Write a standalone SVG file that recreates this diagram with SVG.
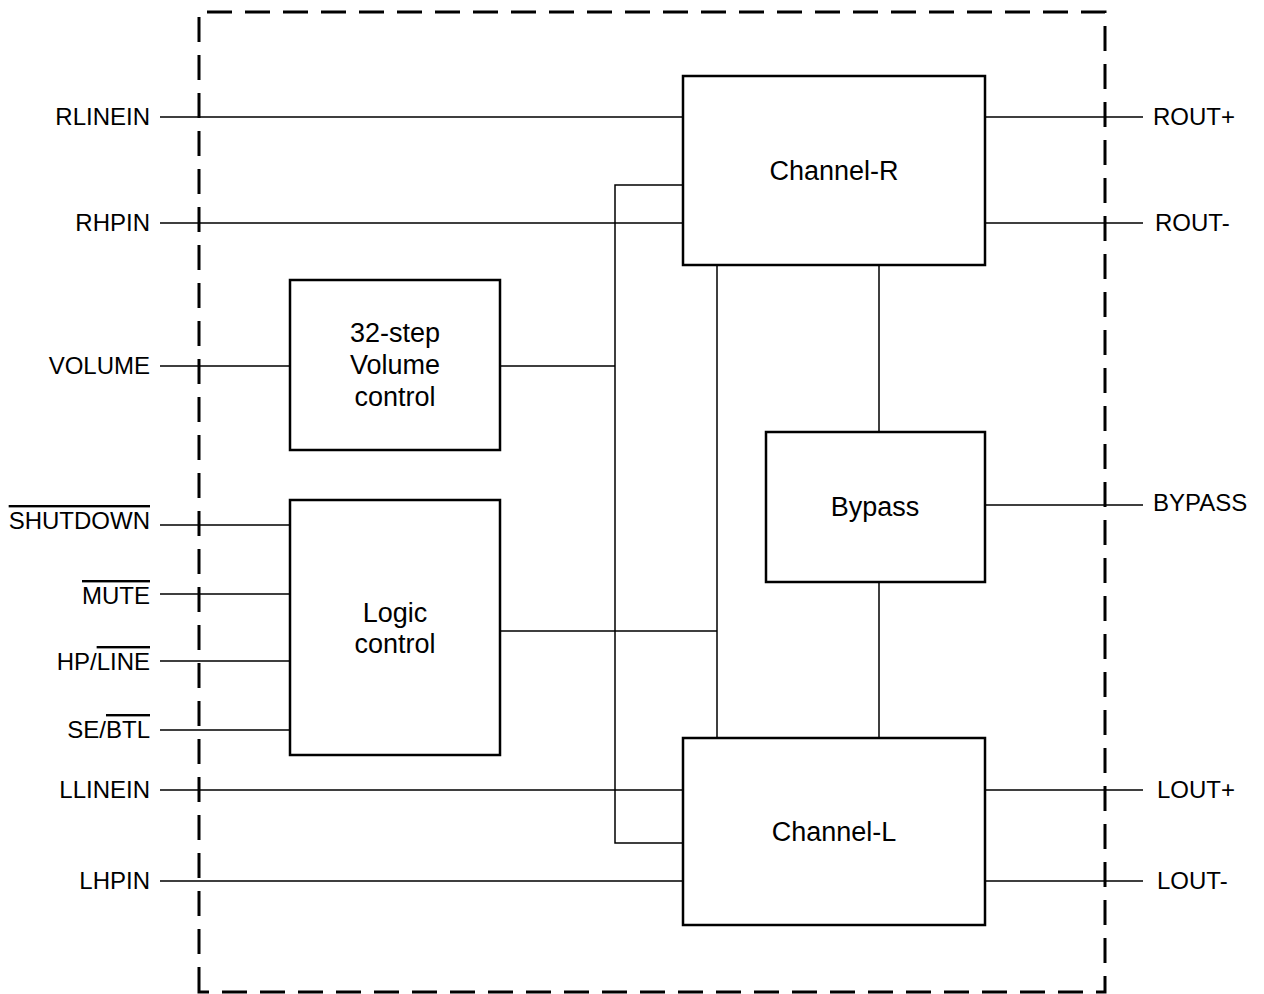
<svg xmlns="http://www.w3.org/2000/svg" width="1264" height="994" viewBox="0 0 1264 994">
<style>
text{font-family:"Liberation Sans",Arial,sans-serif;font-size:24px;fill:#000}
.l{text-anchor:end}
.c{text-anchor:middle;font-size:27px}
.box{fill:#fff;stroke:#000;stroke-width:2.5}
.w{stroke:#000;stroke-width:1.5;fill:none}
.ov{text-decoration:overline}
</style>
<rect width="1264" height="994" fill="#fff"/>
<g id="boundary">
<path d="M199,992 V12 H1105 V992 Z" fill="none" stroke="#000" stroke-width="3" stroke-dasharray="25,13"/>
</g>
<g id="connectors">
<path class="w" d="M160,117 H683 M160,223 H683 M160,366 H290 M500,366 H615 M160,525 H290 M160,594 H290 M160,661 H290 M160,730 H290 M160,790 H683 M160,881 H683"/>
<path class="w" d="M683,185 H615 V843 H683 M500,631 H717 M717,265 V738 M879,265 V432 M879,582 V738"/>
<path class="w" d="M985,117 H1143 M985,223 H1143 M985,505 H1143 M985,790 H1143 M985,881 H1143"/>
</g>
<g id="channel-r"><rect class="box" x="683" y="76" width="302" height="189"/><text class="c" x="834" y="180">Channel-R</text></g>
<g id="volume"><rect class="box" x="290" y="280" width="210" height="170"/><text class="c" x="395" y="342">32-step</text><text class="c" x="395" y="374">Volume</text><text class="c" x="395" y="406">control</text></g>
<g id="logic"><rect class="box" x="290" y="500" width="210" height="255"/><text class="c" x="395" y="622">Logic</text><text class="c" x="395" y="653">control</text></g>
<g id="bypass"><rect class="box" x="766" y="432" width="219" height="150"/><text class="c" x="875" y="516">Bypass</text></g>
<g id="channel-l"><rect class="box" x="683" y="738" width="302" height="187"/><text class="c" x="834" y="841">Channel-L</text></g>
<g id="labels">
<text class="l" x="150" y="125">RLINEIN</text>
<text class="l" x="150" y="231">RHPIN</text>
<text class="l" x="150" y="374">VOLUME</text>
<text class="l" x="150" y="529"><tspan class="ov">SHUTDOWN</tspan></text>
<text class="l" x="150" y="604"><tspan class="ov">MUTE</tspan></text>
<text class="l" x="150" y="670">HP/<tspan class="ov">LINE</tspan></text>
<text class="l" x="150" y="738">SE/<tspan class="ov">BTL</tspan></text>
<text class="l" x="150" y="798">LLINEIN</text>
<text class="l" x="150" y="889">LHPIN</text>
<text x="1153" y="125">ROUT+</text>
<text x="1155" y="231">ROUT-</text>
<text x="1153" y="511">BYPASS</text>
<text x="1157" y="798">LOUT+</text>
<text x="1157" y="889">LOUT-</text>
</g>
</svg>
